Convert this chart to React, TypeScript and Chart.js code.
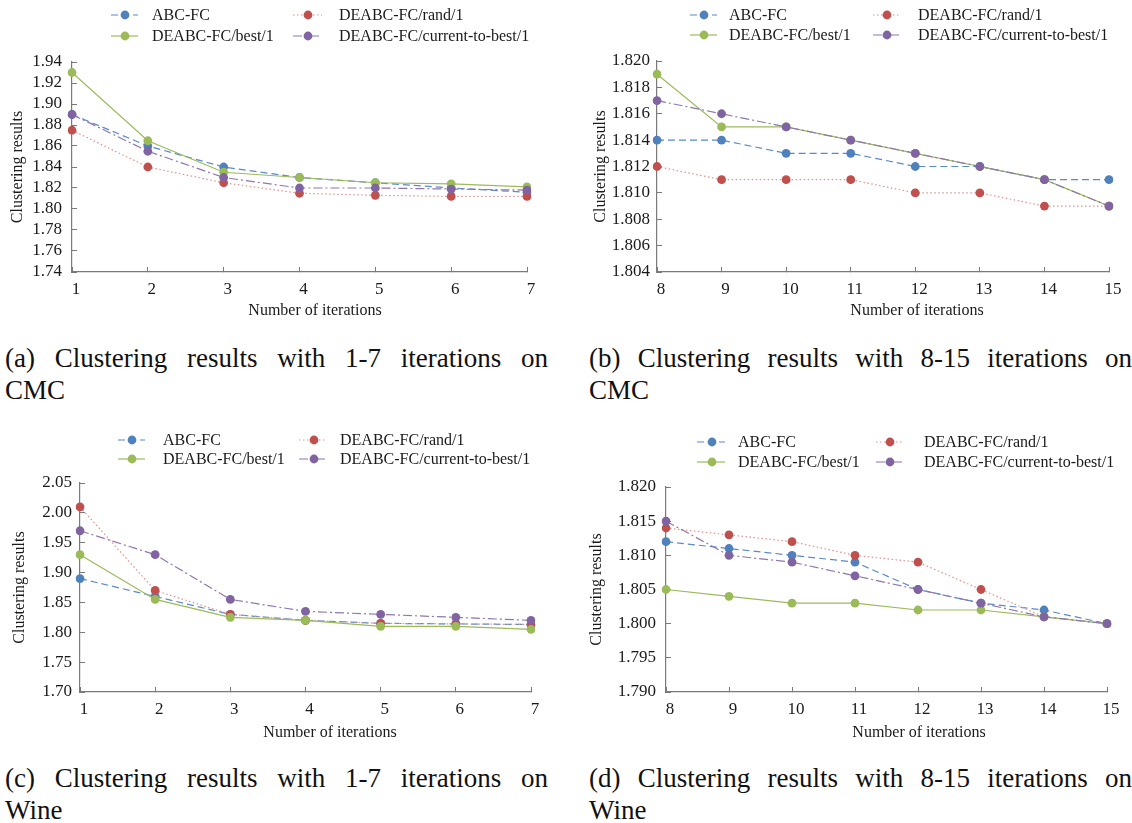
import React, { useEffect, useRef } from 'react';
import { Chart, registerables } from 'chart.js';
Chart.register(...registerables);

const FONT = '"Liberation Serif", "Times New Roman", Times, serif';

const seriesNames = ['ABC-FC', 'DEABC-FC/best/1', 'DEABC-FC/rand/1', 'DEABC-FC/current-to-best/1'];

const itersEarly = ['1', '2', '3', '4', '5', '6', '7'];
const itersLate = ['8', '9', '10', '11', '12', '13', '14', '15'];

// (a) CMC, iterations 1-7
const cmcEarlyABC = [1.89, 1.86, 1.84, 1.83, 1.825, 1.82, 1.816];
const cmcEarlyBest = [1.93, 1.865, 1.835, 1.83, 1.825, 1.824, 1.821];
const cmcEarlyRand = [1.875, 1.84, 1.825, 1.815, 1.813, 1.812, 1.812];
const cmcEarlyCtb = [1.89, 1.855, 1.83, 1.82, 1.82, 1.819, 1.818];

// (b) CMC, iterations 8-15
const cmcLateABC = [1.814, 1.814, 1.813, 1.813, 1.812, 1.812, 1.811, 1.811];
const cmcLateBest = [1.819, 1.815, 1.815, 1.814, 1.813, 1.812, 1.811, 1.809];
const cmcLateRand = [1.812, 1.811, 1.811, 1.811, 1.81, 1.81, 1.809, 1.809];
const cmcLateCtb = [1.817, 1.816, 1.815, 1.814, 1.813, 1.812, 1.811, 1.809];

// (c) Wine, iterations 1-7
const wineEarlyABC = [1.89, 1.86, 1.83, 1.82, 1.815, 1.814, 1.813];
const wineEarlyBest = [1.93, 1.855, 1.825, 1.82, 1.81, 1.81, 1.805];
const wineEarlyRand = [2.01, 1.87, 1.83, 1.82, 1.815, 1.814, 1.813];
const wineEarlyCtb = [1.97, 1.93, 1.855, 1.835, 1.83, 1.825, 1.82];

// (d) Wine, iterations 8-15
const wineLateABC = [1.812, 1.811, 1.81, 1.809, 1.805, 1.803, 1.802, 1.8];
const wineLateBest = [1.805, 1.804, 1.803, 1.803, 1.802, 1.802, 1.801, 1.8];
const wineLateRand = [1.814, 1.813, 1.812, 1.81, 1.809, 1.805, 1.801, 1.8];
const wineLateCtb = [1.815, 1.81, 1.809, 1.807, 1.805, 1.803, 1.801, 1.8];

const yAxisCmcEarly = { min: 1.74, max: 1.94, step: 0.02, decimals: 2 };
const yAxisCmcLate = { min: 1.804, max: 1.82, step: 0.002, decimals: 3 };
const yAxisWineEarly = { min: 1.7, max: 2.05, step: 0.05, decimals: 2 };
const yAxisWineLate = { min: 1.79, max: 1.82, step: 0.005, decimals: 3 };

const xTitleText = 'Number of iterations';
const yTitleText = 'Clustering results';

const captions = [
  ['(a) Clustering results with 1-7 iterations on', 'CMC'],
  ['(b) Clustering results with 8-15 iterations on', 'CMC'],
  ['(c) Clustering results with 1-7 iterations on', 'Wine'],
  ['(d) Clustering results with 8-15 iterations on', 'Wine'],
];

// styles: index 0 ABC, 1 best, 2 rand, 3 ctb
const styles = [
  { point: '#4F81BD', line: '#5B8AC6', dash: [7, 4] },
  { point: '#9BBB59', line: '#9BBB59', dash: [] },
  { point: '#C0504D', line: '#E0908E', dash: [1.5, 2.5] },
  { point: '#8064A2', line: '#8F76AE', dash: [9, 3, 2, 3] },
];

// legend grid positions (row, col) per series
const legendSlots = [
  [0, 0],
  [1, 0],
  [0, 1],
  [1, 1],
];

const panels = [
  {
    left: 0, top: 0, w: 560, h: 330,
    area: { left: 72, right: 527, top: 62, bottom: 272 },
    labels: itersEarly, data: [cmcEarlyABC, cmcEarlyBest, cmcEarlyRand, cmcEarlyCtb], y: yAxisCmcEarly,
    yLabelGap: 10, yTitlePad: 8,
    legend: { rows: [15, 36], cols: [{ x1: 111, x2: 138, mx: 125, tx: 152 }, { x1: 293, x2: 322, mx: 308, tx: 339 }] },
    xTitle: { x: 315, y: 311 },
  },
  {
    left: 570, top: 0, w: 562, h: 330,
    area: { left: 87, right: 539, top: 61, bottom: 272 },
    labels: itersLate, data: [cmcLateABC, cmcLateBest, cmcLateRand, cmcLateCtb], y: yAxisCmcLate,
    yLabelGap: 7, yTitlePad: 21,
    legend: { rows: [15, 35], cols: [{ x1: 120, x2: 147, mx: 134, tx: 159 }, { x1: 303, x2: 330, mx: 317, tx: 348 }] },
    xTitle: { x: 347, y: 311 },
  },
  {
    left: 0, top: 420, w: 560, h: 330,
    area: { left: 80, right: 531, top: 63, bottom: 272 },
    labels: itersEarly, data: [wineEarlyABC, wineEarlyBest, wineEarlyRand, wineEarlyCtb], y: yAxisWineEarly,
    yLabelGap: 8, yTitlePad: 10,
    legend: { rows: [20, 39], cols: [{ x1: 118, x2: 145, mx: 132, tx: 163 }, { x1: 299, x2: 326, mx: 314, tx: 340 }] },
    xTitle: { x: 330, y: 313 },
  },
  {
    left: 570, top: 420, w: 562, h: 330,
    area: { left: 96, right: 537, top: 67, bottom: 272 },
    labels: itersLate, data: [wineLateABC, wineLateBest, wineLateRand, wineLateCtb], y: yAxisWineLate,
    yLabelGap: 10, yTitlePad: 17,
    legend: { rows: [22, 42], cols: [{ x1: 127, x2: 155, mx: 142, tx: 168 }, { x1: 306, x2: 333, mx: 320, tx: 354 }] },
    xTitle: { x: 349, y: 313 },
  },
];

const captionBoxes = [
  { left: 5, top: 342 },
  { left: 589, top: 342 },
  { left: 5, top: 762 },
  { left: 589, top: 762 },
];

function Panel({ cfg }: { cfg: any }) {
  const ref = useRef<HTMLCanvasElement | null>(null);
  useEffect(() => {
    const canvas = ref.current;
    if (!canvas) return;
    const drawOrder = [3, 1, 2, 0];
    const datasets = drawOrder.map((i) => ({
      label: seriesNames[i],
      data: cfg.data[i],
      borderColor: styles[i].line,
      backgroundColor: styles[i].point,
      pointBackgroundColor: styles[i].point,
      pointBorderColor: styles[i].point,
      pointBorderWidth: 0,
      pointRadius: 4.4,
      borderWidth: 1.2,
      borderDash: styles[i].dash,
      tension: 0,
      fill: false,
    }));

    const overlay = {
      id: 'overlay',
      afterDraw(chart: any) {
        const ctx = chart.ctx;
        ctx.save();
        for (let i = 0; i < 4; i++) {
          const [r, c] = legendSlots[i];
          const y = cfg.legend.rows[r];
          const col = cfg.legend.cols[c];
          ctx.strokeStyle = styles[i].line;
          ctx.lineWidth = 1.2;
          ctx.setLineDash(styles[i].dash);
          ctx.beginPath();
          ctx.moveTo(col.x1, y);
          ctx.lineTo(col.x2, y);
          ctx.stroke();
          ctx.setLineDash([]);
          ctx.fillStyle = styles[i].point;
          ctx.beginPath();
          ctx.arc(col.mx, y, 4.4, 0, Math.PI * 2);
          ctx.fill();
          ctx.fillStyle = '#1a1a1a';
          ctx.font = '16px ' + FONT;
          ctx.textAlign = 'left';
          ctx.textBaseline = 'middle';
          ctx.fillText(seriesNames[i], col.tx, y + 1);
        }
        ctx.fillStyle = '#1a1a1a';
        ctx.font = '16px ' + FONT;
        ctx.textAlign = 'center';
        ctx.textBaseline = 'middle';
        ctx.fillText(xTitleText, cfg.xTitle.x, cfg.xTitle.y);
        ctx.restore();
      },
    };

    const chart = new Chart(canvas, {
      type: 'line',
      data: { labels: cfg.labels, datasets },
      options: {
        animation: false,
        responsive: false,
        maintainAspectRatio: false,
        layout: {
          padding: { left: 0, top: cfg.area.top, right: cfg.w - cfg.area.right, bottom: 0 },
        },
        plugins: { legend: { display: false }, tooltip: { enabled: false }, title: { display: false } },
        scales: {
          x: {
            type: 'category',
            offset: false,
            grid: { display: true, drawOnChartArea: false, drawTicks: true, tickLength: -5, color: '#7a7a7a', lineWidth: 1 },
            border: { display: true, color: '#7a7a7a', width: 1.2 },
            ticks: { color: '#1a1a1a', font: { family: FONT, size: 17 }, padding: 12, labelOffset: 4, maxRotation: 0, autoSkip: false },
            afterFit: (s: any) => { s.height = cfg.h - cfg.area.bottom; },
          },
          y: {
            type: 'linear',
            min: cfg.y.min,
            max: cfg.y.max,
            grid: { display: true, drawOnChartArea: false, drawTicks: true, tickLength: -5, color: '#7a7a7a', lineWidth: 1 },
            border: { display: true, color: '#7a7a7a', width: 1.2 },
            ticks: {
              stepSize: cfg.y.step,
              autoSkip: false,
              color: '#1a1a1a',
              font: { family: FONT, size: 17 },
              padding: cfg.yLabelGap + 5,
              callback: (v: any) => Number(v).toFixed(cfg.y.decimals),
            },
            title: {
              display: true,
              text: yTitleText,
              color: '#1a1a1a',
              font: { family: FONT, size: 16 },
              padding: { top: cfg.yTitlePad, bottom: 0 },
            },
            afterFit: (s: any) => { s.width = cfg.area.left; },
          },
        },
      },
      plugins: [overlay],
    } as any);
    return () => chart.destroy();
  }, []);
  return (
    <canvas
      ref={ref}
      width={cfg.w}
      height={cfg.h}
      style={{ position: 'absolute', left: cfg.left, top: cfg.top, width: cfg.w, height: cfg.h }}
    />
  );
}

export default function App() {
  return (
    <div
      style={{
        position: 'absolute', left: 0, top: 0, width: 1132, height: 823,
        overflow: 'hidden', background: '#ffffff',
      }}
    >
      {panels.map((p, i) => (
        <Panel key={i} cfg={p} />
      ))}
      {captions.map((c, i) => (
        <div
          key={'cap' + i}
          style={{
            position: 'absolute', left: captionBoxes[i].left, top: captionBoxes[i].top, width: 543,
            fontFamily: FONT, fontSize: 27, lineHeight: '32px', color: '#111',
          }}
        >
          <div style={{ textAlign: 'justify', textAlignLast: 'justify', whiteSpace: 'nowrap' as any }}>{c[0]}</div>
          <div>{c[1]}</div>
        </div>
      ))}
    </div>
  );
}
